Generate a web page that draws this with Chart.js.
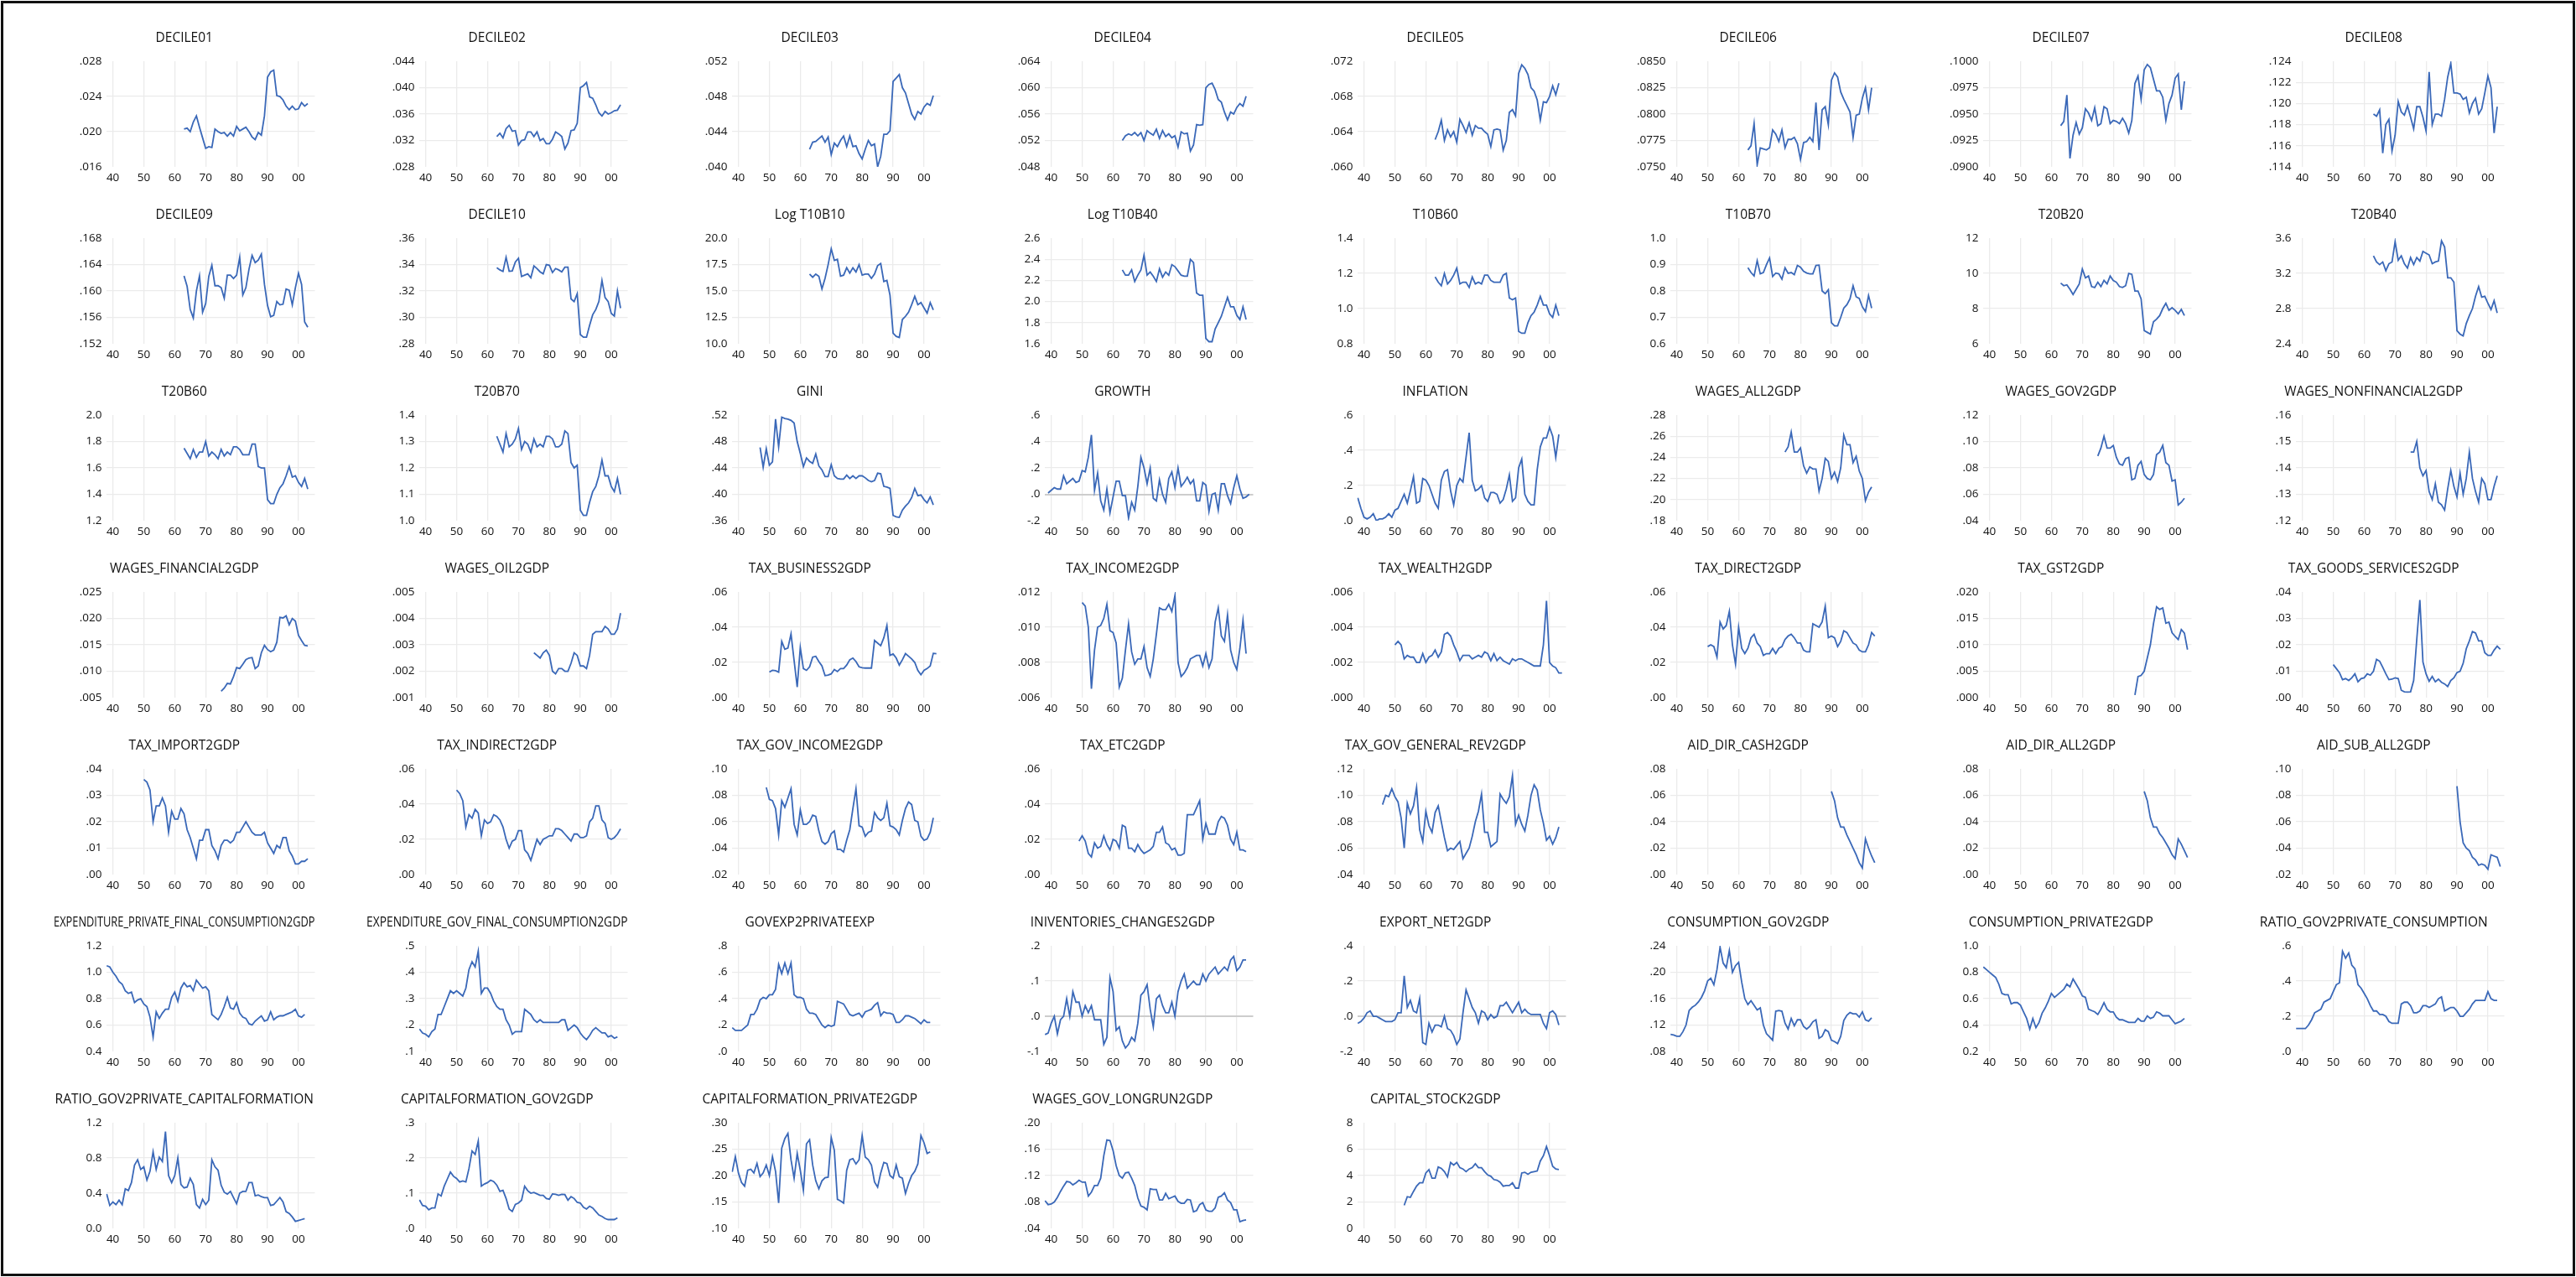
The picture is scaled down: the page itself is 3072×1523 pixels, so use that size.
<!DOCTYPE html>
<html>
<head>
<meta charset="utf-8">
<script src="https://cdn.jsdelivr.net/npm/chart.js@4.4.0/dist/chart.umd.min.js"></script>
<style>
  html, body { margin: 0; padding: 0; background: #fff; }
  #page { position: relative; width: 3072px; height: 1523px; background: #fff; overflow: hidden; }
  #frame { position: absolute; left: 1px; top: 1px; width: 3064px; height: 1515px; border: 3px solid #111; }
  .cell { position: absolute; width: 373px; height: 211px; }
</style>
</head>
<body>
<div id="page"><div id="frame"></div></div>
<script>
// panel titles, in reading order (8 per row)
const titles = [
  'DECILE01','DECILE02','DECILE03','DECILE04','DECILE05','DECILE06','DECILE07','DECILE08',
  'DECILE09','DECILE10','Log T10B10','Log T10B40','T10B60','T10B70','T20B20','T20B40',
  'T20B60','T20B70','GINI','GROWTH','INFLATION','WAGES_ALL2GDP','WAGES_GOV2GDP','WAGES_NONFINANCIAL2GDP',
  'WAGES_FINANCIAL2GDP','WAGES_OIL2GDP','TAX_BUSINESS2GDP','TAX_INCOME2GDP','TAX_WEALTH2GDP','TAX_DIRECT2GDP','TAX_GST2GDP','TAX_GOODS_SERVICES2GDP',
  'TAX_IMPORT2GDP','TAX_INDIRECT2GDP','TAX_GOV_INCOME2GDP','TAX_ETC2GDP','TAX_GOV_GENERAL_REV2GDP','AID_DIR_CASH2GDP','AID_DIR_ALL2GDP','AID_SUB_ALL2GDP',
  'EXPENDITURE_PRIVATE_FINAL_CONSUMPTION2GDP','EXPENDITURE_GOV_FINAL_CONSUMPTION2GDP','GOVEXP2PRIVATEEXP','INIVENTORIES_CHANGES2GDP','EXPORT_NET2GDP','CONSUMPTION_GOV2GDP','CONSUMPTION_PRIVATE2GDP','RATIO_GOV2PRIVATE_CONSUMPTION',
  'RATIO_GOV2PRIVATE_CAPITALFORMATION','CAPITALFORMATION_GOV2GDP','CAPITALFORMATION_PRIVATE2GDP','WAGES_GOV_LONGRUN2GDP','CAPITAL_STOCK2GDP'
];

// first year of each series
const startYears = [
  1963,1963,1963,1963,1963,1963,1963,1963,
  1963,1963,1963,1963,1963,1963,1963,1963,
  1963,1963,1947,1939,1938,1975,1975,1975,
  1975,1975,1950,1950,1950,1950,1987,1950,
  1950,1950,1949,1949,1946,1990,1990,1990,
  1938,1938,1938,1938,1938,1938,1938,1938,
  1938,1938,1938,1938,1953
];

// y axis tick labels per panel
const yTickLabels = [
  ['.028','.024','.020','.016'], ['.044','.040','.036','.032','.028'], ['.052','.048','.044','.040'], ['.064','.060','.056','.052','.048'],
  ['.072','.068','.064','.060'], ['.0850','.0825','.0800','.0775','.0750'], ['.1000','.0975','.0950','.0925','.0900'], ['.124','.122','.120','.118','.116','.114'],
  ['.168','.164','.160','.156','.152'], ['.36','.34','.32','.30','.28'], ['20.0','17.5','15.0','12.5','10.0'], ['2.6','2.4','2.2','2.0','1.8','1.6'],
  ['1.4','1.2','1.0','0.8'], ['1.0','0.9','0.8','0.7','0.6'], ['12','10','8','6'], ['3.6','3.2','2.8','2.4'],
  ['2.0','1.8','1.6','1.4','1.2'], ['1.4','1.3','1.2','1.1','1.0'], ['.52','.48','.44','.40','.36'], ['.6','.4','.2','.0','-.2'],
  ['.6','.4','.2','.0'], ['.28','.26','.24','.22','.20','.18'], ['.12','.10','.08','.06','.04'], ['.16','.15','.14','.13','.12'],
  ['.025','.020','.015','.010','.005'], ['.005','.004','.003','.002','.001'], ['.06','.04','.02','.00'], ['.012','.010','.008','.006'],
  ['.006','.004','.002','.000'], ['.06','.04','.02','.00'], ['.020','.015','.010','.005','.000'], ['.04','.03','.02','.01','.00'],
  ['.04','.03','.02','.01','.00'], ['.06','.04','.02','.00'], ['.10','.08','.06','.04','.02'], ['.06','.04','.02','.00'],
  ['.12','.10','.08','.06','.04'], ['.08','.06','.04','.02','.00'], ['.08','.06','.04','.02','.00'], ['.10','.08','.06','.04','.02'],
  ['1.2','1.0','0.8','0.6','0.4'], ['.5','.4','.3','.2','.1'], ['.8','.6','.4','.2','.0'], ['.2','.1','.0','-.1'],
  ['.4','.2','.0','-.2'], ['.24','.20','.16','.12','.08'], ['1.0','0.8','0.6','0.4','0.2'], ['.6','.4','.2','.0'],
  ['1.2','0.8','0.4','0.0'], ['.3','.2','.1','.0'], ['.30','.25','.20','.15','.10'], ['.20','.16','.12','.08','.04'],
  ['8','6','4','2','0']
];

// x axis ticks (years)
const xTickYears = [1940, 1950, 1960, 1970, 1980, 1990, 2000];

// series values
const decile01 = [.0203,.0204,.0200,.0211,.0218,.0205,.0193,.0181,.0183,.0182,.0203,.0200,.0198,.0199,.0195,.0199,.0195,.0206,.0201,.0203,.0205,.0200,.0194,.0191,.0199,.0196,.0218,.0262,.0268,.0270,.0241,.0240,.0236,.0229,.0225,.0229,.0225,.0226,.0233,.0229,.0232];
const decile02 = [.0326,.0331,.0324,.0338,.0343,.0334,.0335,.0313,.0320,.0321,.0333,.0333,.0326,.0333,.0320,.0323,.0315,.0315,.0322,.0333,.0330,.0326,.0307,.0316,.0335,.0336,.0346,.0400,.0403,.0408,.0386,.0384,.0374,.0362,.0357,.0364,.0360,.0362,.0365,.0366,.0374];
const decile03 = [.0420,.0428,.0429,.0432,.0435,.0428,.0434,.0414,.0427,.0423,.0430,.0435,.0423,.0435,.0423,.0424,.0415,.0409,.0420,.0430,.0424,.0426,.0400,.0412,.0437,.0437,.0441,.0497,.0501,.0505,.0490,.0484,.0472,.0460,.0454,.0463,.0460,.0468,.0472,.0470,.0481];
const decile04 = [.0520,.0527,.0530,.0528,.0532,.0527,.0532,.0520,.0535,.0531,.0528,.0537,.0523,.0535,.0526,.0530,.0524,.0527,.0510,.0533,.0530,.0531,.0504,.0513,.0544,.0543,.0544,.0600,.0605,.0607,.0597,.0582,.0578,.0563,.0551,.0563,.0560,.0570,.0576,.0572,.0587];
const decile05 = [.0631,.0640,.0653,.0630,.0642,.0634,.0640,.0628,.0654,.0647,.0639,.0650,.0636,.0647,.0644,.0644,.0640,.0637,.0623,.0642,.0643,.0642,.0619,.0630,.0662,.0665,.0658,.0706,.0716,.0712,.0705,.0690,.0686,.0676,.0653,.0674,.0673,.0680,.0692,.0682,.0695];
const decile06 = [.0766,.0770,.0791,.0752,.0768,.0767,.0766,.0768,.0785,.0781,.0774,.0785,.0768,.0776,.0776,.0778,.0772,.0757,.0773,.0774,.0778,.0774,.0811,.0766,.0804,.0807,.0790,.0832,.0839,.0835,.0821,.0814,.0808,.0802,.0778,.0799,.0800,.0815,.0825,.0804,.0825];
const decile07 = [.0939,.0943,.0968,.0908,.0930,.0942,.0931,.0937,.0955,.0951,.0944,.0956,.0939,.0941,.0957,.0955,.0941,.0944,.0943,.0941,.0946,.0941,.0932,.0944,.0979,.0986,.0964,.0992,.0997,.0994,.0983,.0972,.0972,.0966,.0944,.0960,.0968,.0984,.0988,.0954,.0981];
const decile08 = [.1190,.1188,.1194,.1153,.1180,.1185,.1155,.1170,.1202,.1192,.1189,.1198,.1187,.1176,.1197,.1197,.1187,.1174,.1230,.1180,.1190,.1190,.1188,.1204,.1225,.1238,.1210,.1210,.1209,.1204,.1206,.1191,.1200,.1205,.1190,.1195,.1210,.1226,.1215,.1172,.1197];
const decile09 = [.1623,.1607,.1572,.1559,.1600,.1623,.1568,.1581,.1622,.1639,.1608,.1608,.1605,.1589,.1624,.1624,.1619,.1624,.1651,.1594,.1605,.1633,.1654,.1643,.1647,.1656,.1610,.1578,.1561,.1563,.1584,.1579,.1580,.1603,.1601,.1579,.1605,.1627,.1610,.1553,.1545];
const decile10 = [.3377,.3360,.3348,.3455,.3350,.3352,.3420,.3448,.3310,.3320,.3330,.3300,.3390,.3370,.3345,.3330,.3400,.3395,.3340,.3370,.3360,.3345,.3380,.3380,.3140,.3120,.3180,.2870,.2850,.2850,.2940,.3020,.3060,.3120,.3280,.3150,.3120,.3030,.3010,.3200,.3070];
const logT10B10 = [16.6,16.3,16.6,16.4,15.2,16.2,17.5,19.0,17.9,18.0,16.4,16.5,17.2,16.7,17.2,16.8,17.5,16.5,16.6,16.6,16.2,16.6,17.4,17.6,15.9,16.0,14.6,11.0,10.7,10.6,12.3,12.6,13.0,13.7,14.5,13.7,13.9,13.4,12.9,13.9,13.2];
const logT10B40 = [2.30,2.25,2.25,2.30,2.19,2.25,2.30,2.44,2.25,2.28,2.24,2.19,2.31,2.23,2.28,2.25,2.35,2.33,2.29,2.25,2.24,2.24,2.40,2.37,2.08,2.06,2.06,1.65,1.62,1.62,1.74,1.80,1.86,1.95,2.04,1.95,1.95,1.87,1.83,1.95,1.83];
const t10b60 = [1.18,1.15,1.13,1.20,1.14,1.16,1.19,1.23,1.14,1.15,1.15,1.12,1.18,1.14,1.15,1.14,1.19,1.19,1.16,1.15,1.15,1.15,1.19,1.20,1.06,1.05,1.06,0.87,0.86,0.86,0.92,0.96,0.98,1.02,1.07,1.02,1.02,0.97,0.95,1.02,0.96];
const t10b70 = [.888,.870,.857,.915,.865,.870,.900,.925,.855,.868,.865,.845,.888,.867,.870,.862,.897,.890,.875,.868,.865,.865,.897,.898,.800,.790,.805,.680,.668,.668,.700,.735,.748,.770,.820,.778,.772,.740,.722,.783,.735];
const t20b20 = [9.45,9.3,9.35,9.1,8.8,9.1,9.4,10.25,9.75,9.85,9.25,9.2,9.5,9.25,9.6,9.4,9.85,9.6,9.5,9.25,9.2,9.3,10.0,9.95,9.0,9.0,8.55,6.75,6.65,6.55,7.25,7.4,7.6,8.0,8.3,7.9,8.05,7.9,7.7,7.95,7.6];
const t20b40 = [3.40,3.33,3.30,3.33,3.23,3.31,3.33,3.56,3.35,3.40,3.31,3.26,3.38,3.30,3.38,3.34,3.45,3.43,3.41,3.31,3.33,3.34,3.57,3.50,3.15,3.15,3.10,2.55,2.51,2.49,2.63,2.72,2.80,2.94,3.05,2.93,2.94,2.86,2.79,2.89,2.75];
const t20b60 = [1.75,1.71,1.67,1.74,1.68,1.72,1.72,1.80,1.69,1.72,1.70,1.67,1.74,1.69,1.72,1.70,1.76,1.76,1.74,1.70,1.70,1.70,1.78,1.78,1.61,1.60,1.60,1.36,1.33,1.33,1.40,1.45,1.48,1.54,1.61,1.53,1.54,1.49,1.46,1.52,1.44];
const t20b70 = [1.32,1.29,1.26,1.33,1.28,1.29,1.31,1.35,1.27,1.30,1.29,1.26,1.31,1.28,1.29,1.28,1.32,1.32,1.31,1.28,1.28,1.29,1.34,1.33,1.22,1.20,1.21,1.04,1.02,1.02,1.07,1.11,1.13,1.17,1.23,1.17,1.17,1.13,1.11,1.16,1.10];
const gini = [.471,.441,.469,.444,.449,.514,.472,.517,.515,.514,.512,.508,.480,.462,.442,.455,.450,.447,.461,.443,.437,.427,.427,.445,.428,.424,.423,.423,.429,.424,.428,.424,.428,.428,.425,.421,.419,.421,.432,.431,.412,.411,.409,.368,.366,.365,.376,.382,.387,.395,.409,.398,.399,.392,.387,.396,.384];
const growth = [.01,.03,.05,.04,.04,.14,.08,.10,.12,.09,.10,.18,.17,.28,.45,.03,.16,-.05,-.12,.04,-.14,-.02,.10,.10,-.01,-.01,-.18,-.06,-.12,.06,.28,.20,.08,.20,-.03,-.05,.11,.00,-.06,.12,.17,.05,.20,.06,.09,.13,.08,.11,-.05,-.05,.09,.07,-.13,.00,.01,-.12,.08,.08,-.01,-.07,.05,.14,.04,-.03,-.02,.00];
const inflation = [.13,.07,.02,.01,.02,.04,.00,.01,.01,.02,.04,.02,.06,.07,.11,.15,.10,.17,.25,.10,.11,.24,.23,.20,.15,.10,.07,.23,.28,.29,.17,.09,.20,.24,.22,.36,.50,.23,.17,.18,.20,.13,.11,.16,.16,.15,.10,.12,.18,.26,.11,.13,.30,.35,.15,.11,.09,.09,.29,.42,.47,.47,.53,.48,.36,.49];
const wagesAll = [.245,.250,.264,.245,.245,.249,.232,.225,.231,.229,.229,.208,.220,.239,.236,.220,.226,.217,.230,.261,.252,.252,.235,.241,.227,.220,.199,.207,.212];
const wagesGov = [.089,.095,.104,.095,.095,.097,.088,.083,.082,.087,.088,.071,.072,.082,.085,.075,.072,.071,.075,.090,.092,.097,.084,.082,.070,.071,.052,.054,.057];
const wagesNonfinancial = [.146,.146,.150,.140,.137,.139,.131,.128,.134,.127,.126,.124,.132,.139,.133,.129,.138,.130,.136,.146,.136,.131,.127,.136,.134,.128,.128,.133,.137];
const wagesFinancial = [.0062,.0068,.0077,.0076,.0090,.0107,.0105,.0113,.0122,.0125,.0126,.0105,.0110,.0135,.0149,.0141,.0137,.0140,.0155,.0202,.0201,.0205,.0188,.0200,.0195,.0168,.0158,.0149,.0148];
const wagesOil = [.0027,.0026,.0025,.0027,.0028,.0026,.0020,.0019,.0021,.0021,.0020,.0020,.0023,.0027,.0026,.0022,.0022,.0021,.0026,.0034,.0035,.0035,.0035,.0037,.0036,.0034,.0034,.0036,.0042];
const taxBusiness = [.0145,.0155,.0153,.0145,.0320,.0275,.0282,.0362,.0210,.0060,.0285,.0165,.0155,.0175,.0230,.0235,.0205,.0180,.0125,.0128,.0135,.0160,.0148,.0165,.0165,.0185,.0215,.0225,.0205,.0175,.0170,.0168,.0168,.0168,.0325,.0310,.0295,.0340,.0410,.0240,.0248,.0225,.0185,.0215,.0250,.0235,.0220,.0200,.0155,.0130,.0155,.0165,.0180,.0252,.0250];
const taxIncome = [.0114,.0112,.0100,.0065,.0087,.0100,.0101,.0105,.0113,.0098,.0097,.0091,.0066,.0071,.0087,.0102,.0086,.0079,.0082,.0082,.0089,.0077,.0072,.0082,.0096,.0111,.0110,.0110,.0113,.0109,.0118,.0080,.0072,.0074,.0077,.0082,.0083,.0084,.0084,.0078,.0085,.0077,.0082,.0103,.0111,.0095,.0092,.0107,.0087,.0080,.0076,.0088,.0104,.0085];
const taxWealth = [.0030,.0032,.0030,.0022,.0024,.0023,.0023,.0020,.0020,.0025,.0020,.0023,.0024,.0027,.0023,.0026,.0036,.0037,.0035,.0030,.0026,.0021,.0024,.0024,.0024,.0022,.0023,.0024,.0023,.0026,.0025,.0021,.0025,.0021,.0023,.0021,.0020,.0019,.0022,.0021,.0022,.0022,.0021,.0020,.0019,.0018,.0018,.0018,.0030,.0055,.0020,.0018,.0017,.0014,.0014];
const taxDirect = [.029,.030,.029,.023,.043,.039,.041,.049,.030,.019,.040,.028,.025,.028,.034,.036,.031,.029,.024,.025,.025,.028,.025,.028,.029,.033,.035,.036,.034,.031,.031,.027,.026,.026,.042,.041,.040,.043,.052,.034,.035,.034,.029,.032,.038,.037,.034,.031,.030,.027,.026,.026,.030,.037,.035];
const taxGst = [.0005,.0040,.0042,.0050,.0075,.0100,.0140,.0172,.0167,.0170,.0141,.0143,.0123,.0116,.0110,.0129,.0122,.0091];
const taxGoodsServices = [.0125,.0110,.0095,.0068,.0072,.0065,.0075,.0090,.0060,.0072,.0075,.0090,.0085,.0100,.0145,.0138,.0115,.0090,.0068,.0070,.0075,.0072,.0028,.0022,.0021,.0022,.0065,.0220,.0370,.0135,.0090,.0062,.0080,.0060,.0070,.0058,.0052,.0042,.0065,.0075,.0095,.0100,.0130,.0185,.0215,.0250,.0245,.0215,.0215,.0170,.0160,.0160,.0180,.0195,.0183];
const taxImport = [.036,.035,.032,.020,.026,.026,.029,.026,.016,.024,.021,.021,.025,.023,.017,.014,.010,.006,.013,.013,.017,.017,.011,.009,.006,.011,.013,.013,.012,.013,.016,.016,.018,.020,.018,.016,.015,.015,.015,.016,.012,.010,.008,.011,.010,.014,.014,.009,.007,.004,.004,.005,.005,.006];
const taxIndirect = [.048,.046,.042,.027,.034,.032,.037,.035,.022,.031,.029,.030,.034,.033,.031,.027,.020,.015,.019,.020,.025,.025,.014,.012,.008,.014,.020,.017,.020,.021,.022,.022,.026,.026,.025,.023,.021,.019,.023,.023,.021,.021,.022,.030,.032,.039,.039,.031,.029,.021,.020,.021,.023,.026];
const taxGovIncome = [.086,.077,.076,.070,.050,.076,.071,.078,.085,.058,.050,.069,.058,.058,.060,.065,.064,.053,.045,.043,.045,.051,.053,.039,.039,.037,.046,.054,.070,.085,.057,.056,.049,.052,.053,.067,.063,.061,.063,.074,.057,.056,.054,.050,.061,.070,.075,.073,.061,.060,.049,.046,.047,.052,.063];
const taxEtc = [.019,.022,.019,.012,.010,.018,.015,.016,.022,.017,.014,.020,.019,.015,.028,.027,.015,.015,.013,.017,.014,.012,.013,.014,.016,.024,.024,.027,.018,.017,.014,.015,.011,.011,.012,.034,.034,.034,.038,.042,.020,.029,.023,.023,.023,.030,.033,.032,.028,.020,.017,.024,.014,.014,.013];
const taxGovGeneralRev = [.093,.100,.099,.105,.099,.095,.083,.060,.094,.086,.092,.106,.074,.065,.088,.077,.072,.087,.092,.080,.068,.058,.060,.059,.062,.065,.052,.056,.060,.069,.080,.088,.101,.072,.072,.061,.063,.065,.101,.097,.094,.099,.115,.078,.085,.078,.073,.085,.100,.108,.104,.089,.079,.066,.069,.063,.068,.076];
const aidDirCash = [.063,.056,.043,.036,.036,.030,.025,.020,.015,.009,.005,.027,.020,.014,.009];
const aidDirAll = [.063,.056,.043,.036,.036,.031,.028,.024,.020,.015,.012,.027,.023,.018,.013];
const aidSubAll = [.087,.060,.044,.040,.038,.033,.031,.027,.028,.027,.024,.035,.034,.033,.026];
const expPrivateFinal = [1.05,1.04,1.00,.97,.93,.91,.86,.84,.85,.77,.79,.80,.76,.74,.66,.51,.70,.65,.69,.72,.72,.81,.85,.78,.88,.92,.89,.90,.86,.94,.91,.88,.89,.86,.68,.66,.64,.68,.74,.81,.73,.72,.77,.69,.66,.65,.61,.60,.63,.65,.67,.63,.64,.70,.64,.66,.67,.67,.68,.69,.70,.72,.67,.66,.68];
const expGovFinal = [.185,.17,.165,.155,.175,.185,.24,.24,.27,.30,.33,.32,.33,.32,.31,.34,.41,.44,.42,.48,.32,.34,.34,.32,.29,.27,.26,.26,.22,.20,.165,.175,.175,.175,.26,.25,.24,.22,.21,.22,.21,.21,.21,.21,.21,.21,.22,.22,.18,.19,.20,.19,.17,.155,.145,.16,.18,.19,.18,.17,.17,.155,.16,.15,.155];
const govexp2privateexp = [.18,.16,.16,.16,.18,.20,.28,.28,.32,.39,.41,.40,.43,.43,.47,.66,.59,.67,.59,.67,.43,.41,.41,.40,.32,.29,.29,.28,.24,.20,.18,.20,.19,.20,.38,.37,.36,.32,.28,.27,.28,.29,.26,.30,.31,.32,.35,.37,.27,.30,.29,.29,.28,.22,.22,.24,.27,.27,.26,.25,.23,.21,.24,.22,.22];
const inventoriesChanges = [-.052,-.048,-.02,.00,-.05,-.01,.00,.05,.00,.07,.04,.04,.00,.03,.01,.03,-.01,-.01,-.01,-.08,-.06,.11,.07,-.04,-.03,-.07,-.09,-.08,-.06,-.07,-.02,.06,.07,.09,.02,-.03,.05,.06,.03,.01,.01,.04,.00,.07,.10,.12,.08,.09,.10,.09,.09,.12,.10,.12,.13,.14,.12,.13,.14,.13,.16,.17,.13,.14,.16,.16];
const exportNet = [-.04,-.03,-.01,.02,.03,.00,.00,-.01,-.02,-.03,-.03,-.03,-.02,.02,.02,.23,.05,.09,.03,.02,.10,-.15,-.16,-.04,-.09,-.05,-.05,-.06,.00,-.07,-.08,-.11,-.16,-.13,.02,.15,.10,.05,.02,-.04,.03,.02,-.02,.01,-.01,.00,.06,.06,.08,.05,.02,.05,.08,.02,.04,.02,.01,.01,.01,.01,-.04,-.07,.02,.03,.01,-.05];
const consumptionGov = [.106,.105,.103,.103,.110,.120,.142,.147,.150,.155,.162,.172,.187,.191,.181,.204,.238,.214,.207,.233,.200,.210,.215,.185,.160,.151,.157,.150,.143,.146,.120,.107,.102,.097,.141,.142,.141,.123,.114,.130,.119,.128,.128,.118,.114,.118,.125,.128,.100,.103,.113,.110,.097,.095,.092,.103,.127,.135,.139,.137,.137,.132,.140,.128,.126,.131];
const consumptionPrivate = [.84,.82,.80,.78,.76,.71,.64,.63,.63,.56,.57,.57,.55,.50,.45,.37,.45,.38,.42,.49,.53,.58,.64,.61,.63,.65,.67,.71,.69,.75,.71,.67,.62,.61,.52,.51,.50,.48,.52,.57,.52,.50,.50,.46,.44,.44,.43,.42,.42,.42,.45,.43,.43,.47,.45,.46,.50,.49,.47,.47,.47,.44,.41,.42,.43,.45];
const ratioGov2PrivateConsumption = [.13,.13,.13,.13,.15,.18,.22,.23,.24,.28,.29,.30,.34,.38,.39,.57,.53,.56,.49,.47,.38,.36,.33,.30,.26,.23,.23,.21,.21,.20,.17,.16,.16,.16,.27,.28,.28,.26,.22,.22,.23,.26,.26,.25,.26,.27,.30,.31,.23,.24,.25,.25,.23,.20,.20,.22,.24,.27,.29,.29,.29,.29,.34,.30,.29,.29];
const ratioGov2PrivateCapform = [.39,.26,.30,.27,.32,.27,.45,.43,.52,.72,.78,.67,.70,.55,.65,.87,.67,.81,.76,1.10,.60,.52,.60,.80,.50,.46,.47,.57,.50,.27,.23,.33,.27,.32,.78,.70,.66,.49,.41,.39,.42,.35,.28,.40,.42,.42,.52,.52,.37,.38,.36,.35,.35,.26,.27,.31,.35,.30,.19,.17,.13,.08,.09,.10,.11];
const capformGov = [.081,.065,.063,.053,.058,.058,.098,.092,.12,.14,.16,.148,.142,.132,.135,.132,.17,.22,.21,.248,.12,.126,.13,.137,.133,.123,.105,.108,.085,.055,.048,.068,.072,.08,.12,.107,.10,.102,.098,.094,.094,.085,.083,.098,.097,.094,.097,.096,.08,.09,.085,.074,.072,.06,.055,.063,.058,.048,.038,.034,.028,.025,.025,.025,.03];
const capformPrivate = [.207,.236,.205,.187,.180,.210,.212,.205,.223,.198,.205,.220,.200,.236,.208,.148,.252,.270,.280,.230,.195,.242,.210,.172,.260,.268,.220,.190,.175,.190,.196,.197,.272,.248,.155,.152,.148,.210,.230,.232,.222,.230,.276,.235,.230,.220,.188,.178,.205,.225,.223,.200,.195,.220,.198,.195,.166,.185,.200,.208,.222,.276,.262,.242,.245];
const wagesGovLongrun = [.082,.076,.077,.080,.087,.096,.104,.111,.110,.106,.109,.113,.110,.110,.089,.095,.105,.105,.116,.150,.174,.173,.158,.135,.120,.116,.124,.125,.116,.105,.086,.074,.072,.068,.100,.099,.099,.083,.083,.093,.085,.087,.089,.081,.078,.078,.084,.083,.065,.067,.076,.079,.068,.066,.066,.071,.087,.089,.094,.083,.079,.068,.068,.050,.052,.053];
const capitalStock = [1.75,2.4,2.35,2.8,3.2,3.45,3.45,4.2,4.45,3.8,3.8,4.65,4.55,4.3,3.9,5.0,4.8,5.0,4.6,4.5,4.3,4.5,4.6,4.9,4.6,4.6,4.3,4.05,3.95,3.7,3.65,3.5,3.2,3.25,3.25,3.45,3.05,3.05,4.2,4.25,4.1,4.25,4.3,4.35,5.1,5.5,6.2,5.5,4.7,4.5,4.45];

const seriesValues = [
  decile01, decile02, decile03, decile04, decile05, decile06, decile07, decile08,
  decile09, decile10, logT10B10, logT10B40, t10b60, t10b70, t20b20, t20b40,
  t20b60, t20b70, gini, growth, inflation, wagesAll, wagesGov, wagesNonfinancial,
  wagesFinancial, wagesOil, taxBusiness, taxIncome, taxWealth, taxDirect, taxGst, taxGoodsServices,
  taxImport, taxIndirect, taxGovIncome, taxEtc, taxGovGeneralRev, aidDirCash, aidDirAll, aidSubAll,
  expPrivateFinal, expGovFinal, govexp2privateexp, inventoriesChanges, exportNet, consumptionGov, consumptionPrivate, ratioGov2PrivateConsumption,
  ratioGov2PrivateCapform, capformGov, capformPrivate, wagesGovLongrun, capitalStock
];

// layout / style
const COLS = 8, COL_W = 373, ROW_H = 211, FIRST_CX = 250, FIRST_TOP = 25;
const FONT = '"Open Sans", "Noto Sans", sans-serif';
const LINE_COLOR = '#3a68b8';
const GRID = '#ebebeb';
const TEXT = '#111111';

Chart.defaults.font.family = FONT;
Chart.defaults.color = TEXT;

const page = document.getElementById('page');

function makePanel(i) {
  const col = i % COLS, row = Math.floor(i / COLS);
  const cell = document.createElement('div');
  cell.className = 'cell';
  cell.style.left = (FIRST_CX + col * COL_W - COL_W / 2) + 'px';
  cell.style.top = (FIRST_TOP + row * ROW_H) + 'px';
  const cv = document.createElement('canvas');
  cv.width = COL_W; cv.height = ROW_H;
  cv.style.width = COL_W + 'px'; cv.style.height = ROW_H + 'px';
  cell.appendChild(cv);
  page.appendChild(cell);

  // sort ticks ascending, keep their printed labels
  const labels = yTickLabels[i].slice().sort((a, b) => parseFloat(a) - parseFloat(b));
  const tickVals = labels.map(parseFloat);
  const ymin = tickVals[0], ymax = tickVals[tickVals.length - 1];
  const pts = seriesValues[i].map((v, k) => ({ x: startYears[i] + k, y: v }));

  new Chart(cv, {
    type: 'line',
    data: { datasets: [{ data: pts, borderColor: LINE_COLOR, borderWidth: 1.8, pointRadius: 0, tension: 0, fill: false }] },
    options: {
      responsive: false,
      animation: false,
      devicePixelRatio: 1,
      layout: { padding: { left: 0, right: 61.5, top: 0, bottom: 0 } },
      plugins: {
        legend: { display: false },
        tooltip: { enabled: false },
        title: {
          display: true, text: titles[i], color: TEXT,
          font: { family: FONT, size: 15.5, weight: 'normal', lineHeight: 1.2 },
          padding: { top: 11.5, bottom: 18 }
        }
      },
      scales: {
        x: {
          type: 'linear', min: 1937.8, max: 2005.3,
          afterBuildTicks: s => { s.ticks = xTickYears.map(v => ({ value: v })); },
          afterFit: s => { s.height = 37; },
          ticks: { callback: v => String(v).slice(2), font: { size: 13.5 }, color: TEXT, padding: 5, maxRotation: 0, autoSkip: false },
          grid: { color: GRID, lineWidth: 1.3, drawTicks: false },
          border: { display: false }
        },
        y: {
          min: ymin, max: ymax,
          afterBuildTicks: s => { s.ticks = tickVals.map(v => ({ value: v })); },
          afterFit: s => { s.width = 62.5; },
          ticks: { callback: (v, idx) => labels[idx], font: { size: 13.5 }, color: TEXT, padding: 5, autoSkip: false },
          grid: {
            drawTicks: false,
            color: ctx => {
              const v = ctx.tick ? ctx.tick.value : null;
              if (v === ymin || v === ymax) return 'rgba(0,0,0,0)';
              return v === 0 ? '#cdcdcd' : GRID;
            },
            lineWidth: ctx => (ctx.tick && ctx.tick.value === 0 ? 2 : 1.3)
          },
          border: { display: false }
        }
      }
    }
  });
}

for (let i = 0; i < titles.length; i++) makePanel(i);
</script>
</body>
</html>
